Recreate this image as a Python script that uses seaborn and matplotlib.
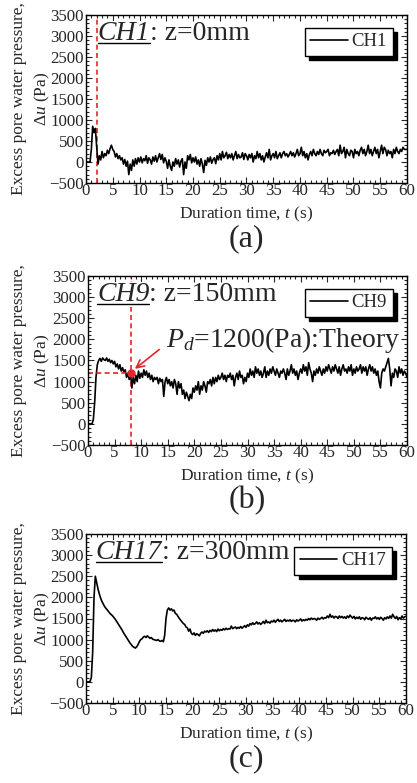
import numpy as np
import pandas as pd
import matplotlib
matplotlib.use("Agg")
import matplotlib.pyplot as plt
import seaborn as sns
from matplotlib.ticker import MultipleLocator

# ---------------- data (sampled every 0.25 s) ----------------
time_step = 0.25
ch1 = [0,0,0,0, 300,850,700,800, 350,-50,150,50, 250,100,200,150, 280,200,320,400,
       300,250,120,200, 80,150,50,100, -50,60,-100,20, -300,-50,-200,50, -100,80,-50,100,
       0,120,-20,80, 30,150,-30,100, 50,-50,120,20, 150,0,100,200, 60,180,-20,100,
       20,-150,50,-100, -200,0,-100,80, -50,50,-120,20, 80,-300,0,-150, 150,50,180,-20,
       100,0,120,-50, 50,-100,80,-50, -250,40,-80,100, 0,120,-30,60, 100,-40,150,50,
       200,50,250,100, 150,230,80,180, 100,200,50,150, 250,80,180,100, 120,220,60,200,
       150,50,180,100, 200,0,150,80, 250,100,200,50, 150,0,120,220, 100,300,50,150,
       200,100,250,80, 150,220,100,200, 250,150,200,120, 180,250,150,220, 120,200,300,150,
       200,350,150,250, 100,200,50,180, 250,150,300,200, 150,250,180,300, 200,150,280,220,
       250,300,150,220, 200,280,180,250, 300,150,400,200, 250,350,100,300, 200,150,280,250,
       100,300,200,250, 150,280,350,200, 300,150,250,400, 200,300,150,250, 350,200,300,100,
       250,400,200,350, 300,150,280,200, 250,100,300,200, 350,250,200,300, 250,350,300,300,
       300]
ch9 = [0,0,0,0, 100,500,1100,1400, 1500,1550,1480,1560, 1520,1500,1560,1480, 1530,1450,1500,1420,
       1480,1350,1420,1300, 1400,1250,1330,1220, 1280,1100,1200,1050, 1200,850,1100,950, 1150,1000,1250,1080,
       1200,1100,1280,1150, 1250,1100,1200,1050, 1150,1000,1100,1050, 1100,950,1080,1000, 1050,650,1000,1100,
       950,1050,900,1000, 850,1050,950,700, 1000,850,950,700, 800,600,750,650, 550,700,600,850,
       750,900,800,1000, 700,900,800,1000, 900,750,1000,950, 1050,900,1100,950, 1100,1000,1150,1050,
       1100,1200,1050,1150, 1000,1150,1100,1200, 1050,1150,900,1100, 1200,1050,1250,1100, 1150,950,1100,1000,
       1200,1100,1300,1150, 1250,1100,1350,1200, 1300,1150,1250,1100, 1200,1350,1100,1250, 1150,1300,1200,1350,
       1250,1150,1300,1200, 1100,1250,1200,1300, 1200,1050,1300,1150, 1250,1400,1200,1300, 1150,1250,1050,1200,
       1300,1200,1400,1250, 1350,1150,1450,1300, 1200,1000,1250,1150, 1300,1200,1350,1250, 1150,1300,1200,1350,
       1250,1400,1300,1200, 1350,1250,1400,1300, 1200,1350,1150,1300, 1400,1250,1300,1200, 1350,1250,1400,1150,
       1300,1200,1350,1250, 1300,1400,1200,1350, 1250,1350,1150,1300, 1400,1250,1350,1200, 1300,1150,1250,1000,
       850,1200,1300,1250, 1350,1450,1550,1300, 900,1200,1100,1300, 1250,1100,1350,1200, 1300,1150,1250,1200,
       1100]
ch17 = [0,0,0,10, 100,700,2000,2500, 2350,2200,2080,1980, 1900,1840,1780,1740, 1700,1660,1620,1590,
        1560,1520,1480,1430, 1380,1330,1280,1230, 1170,1120,1070,1020, 970,920,880,840, 820,800,830,880,
        950,1000,1020,1060, 1080,1050,1090,1060, 1030,1050,1010,1000, 990,980,1000,970, 960,980,950,1100,
        1500,1700,1750,1700, 1730,1680,1700,1620, 1600,1550,1500,1460, 1420,1380,1360,1300, 1280,1200,1250,1150,
        1120,1160,1100,1140, 1120,1090,1150,1180, 1150,1200,1180,1210, 1170,1220,1190,1240, 1200,1230,1190,1250,
        1210,1240,1220,1260, 1230,1270,1240,1260, 1250,1320,1260,1280, 1300,1260,1290,1270, 1310,1270,1300,1330,
        1290,1350,1320,1380, 1350,1400,1360,1380, 1420,1370,1400,1360, 1390,1430,1380,1460, 1400,1420,1390,1440,
        1420,1460,1410,1450, 1480,1430,1460,1420, 1450,1480,1430,1460, 1440,1470,1430,1460, 1450,1420,1470,1440,
        1460,1490,1440,1470, 1450,1480,1460,1500, 1470,1510,1480,1500, 1490,1460,1510,1480, 1500,1530,1490,1520,
        1510,1560,1520,1600, 1530,1560,1510,1550, 1540,1500,1560,1520, 1550,1510,1540,1500, 1560,1520,1580,1540,
        1510,1550,1490,1530, 1500,1540,1480,1520, 1510,1470,1530,1500, 1480,1520,1460,1510, 1500,1540,1490,1520,
        1480,1530,1500,1460, 1520,1490,1540,1500, 1560,1510,1600,1540, 1500,1550,1470,1520, 1490,1560,1510,1540,
        1550]

channels = ["CH1", "CH9", "CH17"]
depths = ["z=0mm", "z=150mm", "z=300mm"]
panel_labels = ["(a)", "(b)", "(c)"]
series = [ch1, ch9, ch17]
red_vline_t = [2.0, 8.0, None]
theory_t = 8.0
theory_pd = 1200
x_ticks = list(range(0, 61, 5))
y_ticks = list(range(-500, 3501, 500))

RED = "#e3262b"

# ---------------- style ----------------
sns.set_style("ticks")
plt.rcParams['font.family'] = ['Liberation Serif', 'DejaVu Serif']
plt.rcParams['mathtext.fontset'] = 'custom'
plt.rcParams['mathtext.rm'] = 'Liberation Serif'
plt.rcParams['mathtext.it'] = 'Liberation Serif:italic'
plt.rcParams['xtick.direction'] = 'in'
plt.rcParams['ytick.direction'] = 'in'

W, H = 417, 783
fig = plt.figure(figsize=(W/100, H/100), dpi=100)
# axes boxes in pixels: left, top, right, bottom
boxes = [(86, 15, 407, 183), (88, 276, 407, 445), (86, 534, 406, 703)]

axes = []
for i, (box, vals) in enumerate(zip(boxes, series)):
    l, tp, r, b = box
    ax = fig.add_axes([l/W, 1-b/H, (r-l)/W, (b-tp)/H])
    axes.append(ax)
    t = np.arange(len(vals)) * time_step
    df = pd.DataFrame({"t": t, "u": vals})
    sns.lineplot(data=df, x="t", y="u", ax=ax, color="black", linewidth=1.2,
                 label=channels[i], estimator=None)
    ax.set_xlim(0, 60)
    ax.set_ylim(-500, 3500)
    ax.set_xticks(x_ticks)
    ax.set_yticks(y_ticks)
    ax.xaxis.set_minor_locator(MultipleLocator(1))
    ax.yaxis.set_minor_locator(MultipleLocator(100))
    ax.tick_params(which='both', top=True, right=True, labelsize=12.2, width=0.8)
    ax.tick_params(axis='y', pad=1.5)
    ax.tick_params(axis='x', pad=0)
    ax.tick_params(which='major', length=4)
    ax.tick_params(which='minor', length=2)
    for s in ax.spines.values():
        s.set_linewidth(1.0)
        s.set_color("black")
    ax.set_xlabel(r"Duration time, $\mathit{t}$ (s)", fontsize=12.5, labelpad=4)
    ax.set_ylabel("Excess pore water pressure,\n" + r"$\mathit{\Delta u}$ (Pa)",
                  fontsize=12.5, linespacing=1.4)
    ax.yaxis.set_label_coords((52 - l) / (r - l), 0.5)
    leg = ax.legend(loc="upper right", fontsize=13.5, frameon=True, fancybox=False,
                    shadow={'color': 'black', 'alpha': 1.0, 'ox': 3, 'oy': -3},
                    handlelength=2.0, borderpad=0.3, handletextpad=0.2,
                    borderaxespad=0, bbox_to_anchor=(0.955, 0.925))
    leg.get_frame().set_edgecolor("black")
    leg.get_frame().set_linewidth(1.0)
    if red_vline_t[i] is not None:
        ax.axvline(red_vline_t[i], color=RED, linestyle=(0, (3, 2)), linewidth=1.2, zorder=1)
    ax.text(0.5, -0.33, panel_labels[i], transform=ax.transAxes, ha="center", va="center",
            fontsize=23)

# theory annotation in panel (b)
axb = axes[1]
axb.plot([0, theory_t], [theory_pd, theory_pd], color=RED, linestyle=(0, (3, 2)), linewidth=1.2)
axb.plot([theory_t], [theory_pd], 'o', color=RED, markersize=5)
axb.annotate("", xy=(theory_t + 0.4, theory_pd + 60), xytext=(13.8, 1800),
             arrowprops=dict(arrowstyle="->", color=RED, lw=1.2, mutation_scale=14))
axb.text(14.6, 1620, r"$P_d$=1200(Pa):Theory", fontsize=20, ha="left", va="bottom")

# titles with underlined italic channel name
fig.canvas.draw()
renderer = fig.canvas.get_renderer()
title_x = [2.2, 1.7, 1.8]
for i, ax in enumerate(axes):
    t1 = ax.text(title_x[i], 3070, channels[i], fontsize=20, style="italic", ha="left", va="center",
                 zorder=5, bbox=dict(facecolor="white", edgecolor="none", pad=0))
    t2 = ax.annotate(": " + depths[i], xy=(1, 0), xycoords=t1, ha="left", va="bottom", fontsize=20)
    fig.canvas.draw()
    bb = t1.get_window_extent(renderer)
    inv = fig.transFigure.inverted()
    (x0, y0), (x1, y1) = inv.transform([(bb.x0, bb.y0 + 3), (bb.x1, bb.y0 + 3)])
    fig.add_artist(plt.Line2D([x0, x1], [y0, y1], color="black", linewidth=1.0,
                              transform=fig.transFigure))

fig.savefig("out.png", dpi=100)
